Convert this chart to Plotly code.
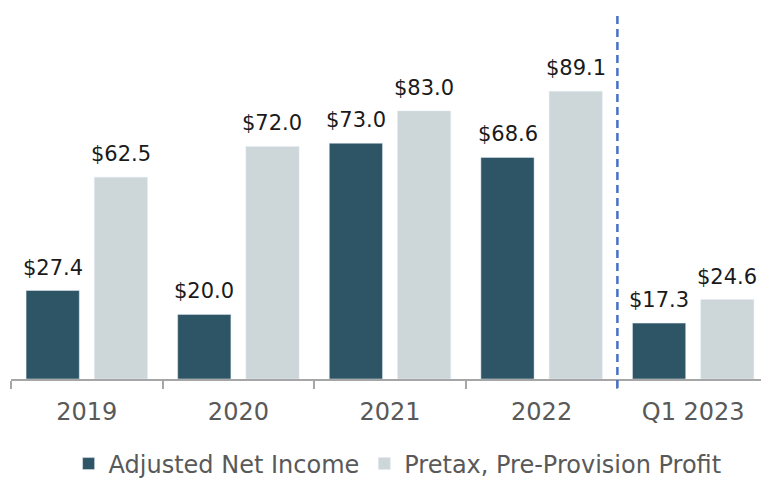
import plotly.graph_objects as go

categories = ["2019", "2020", "2021", "2022", "Q1 2023"]
adjusted_net_income = [27.4, 20.0, 73.0, 68.6, 17.3]
pretax_ppp = [62.5, 72.0, 83.0, 89.1, 24.6]

def fmt(v):
    return [f"${x:.1f}" for x in v]

FONT = "DejaVu Sans"

fig = go.Figure()
fig.add_trace(go.Bar(x=categories, y=adjusted_net_income, name="Adjusted Net Income",
                     marker_color="#2E5565", textposition="none"))
fig.add_trace(go.Bar(x=categories, y=pretax_ppp, name="Pretax, Pre-Provision Profit",
                     marker_color="#CDD6D9", textposition="none"))

# value labels above each bar (category index on the category axis, shifted to the bar's slot)
for series, shift in ((adjusted_net_income, -34), (pretax_ppp, 34)):
    for idx, (val, lab) in enumerate(zip(series, fmt(series))):
        fig.add_annotation(x=idx, y=val, text=lab, showarrow=False,
                           xshift=shift, yshift=9, yanchor="bottom",
                           font=dict(size=21, color="#1a1a1a", family=FONT))

fig.add_shape(type="line", xref="x", yref="paper", x0=3.5, x1=3.5, y0=-0.025, y1=1,
              line=dict(color="#4472C4", width=2.5, dash="8px,5px"))

# the page body has an 8px default margin, so the figure is sized to end at 769x479
fig.update_layout(
    width=761, height=471,
    margin=dict(l=3, r=0, t=7, b=100, autoexpand=False),
    paper_bgcolor="white", plot_bgcolor="white",
    barmode="group", bargap=0.1, bargroupgap=0.22,
    font=dict(family=FONT, color="#595959"),
    showlegend=True,
    legend=dict(orientation="h", x=0.51, xanchor="center", y=-0.2335, yanchor="middle",
                font=dict(size=24, color="#595959", family=FONT), itemwidth=30,
                tracegroupgap=0),
    xaxis=dict(type="category", categoryorder="array", categoryarray=categories,
               range=[-0.5, len(categories) - 0.5],
               showline=True, linecolor="#A6A6A6", linewidth=2, automargin=False,
               ticks="outside", tickson="boundaries", ticklen=8, tickcolor="#A6A6A6",
               tickwidth=2, tickfont=dict(size=24, color="#595959", family=FONT),
               ticklabelstandoff=10, showgrid=False),
    yaxis=dict(range=[0, 112.7], visible=False, showgrid=False, automargin=False),
)

fig.write_html("out.html")
